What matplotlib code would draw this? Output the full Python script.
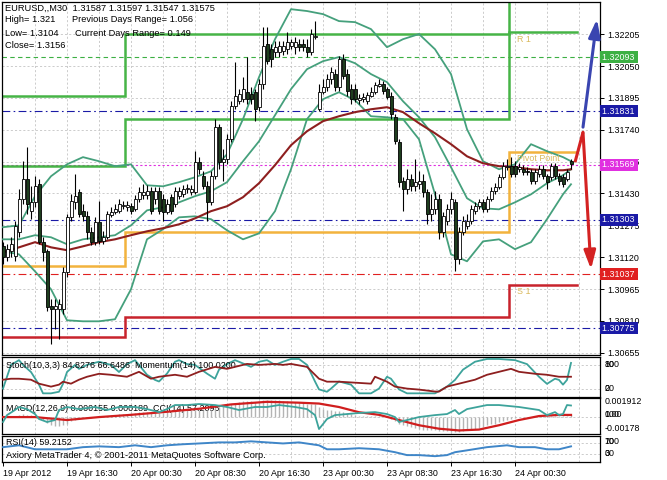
import matplotlib
matplotlib.use("Agg")
import matplotlib.pyplot as plt
import matplotlib.transforms as mtransforms
import numpy as np

plt.rcParams['font.family'] = ['Liberation Sans', 'DejaVu Sans']
FS = 6.4

# ---- EURUSD M30 candles (bar index 0 = 19 Apr 08:30) ----
opens = [
    1.31173, 1.31120, 1.31149, 1.31124, 1.31241, 1.31402, 1.31499, 1.31344, 1.31387, 1.31475,
    1.31193, 1.31149, 1.30881, 1.30866, 1.30866, 1.30866, 1.31046, 1.31314, 1.31387, 1.31436,
    1.31344, 1.31319, 1.31241, 1.31193, 1.31290, 1.31197, 1.31217, 1.31324, 1.31339, 1.31344,
    1.31368, 1.31363, 1.31368, 1.31353, 1.31402, 1.31421, 1.31421, 1.31441, 1.31402, 1.31441,
    1.31402, 1.31339, 1.31412, 1.31378, 1.31417, 1.31426, 1.31451, 1.31436, 1.31436, 1.31582,
    1.31514, 1.31465, 1.31387, 1.31514, 1.31753, 1.31582, 1.31597, 1.31694, 1.31855, 1.31879,
    1.31889, 1.31923, 1.31913, 1.31923, 1.31850, 1.31962, 1.32157, 1.32132, 1.32118, 1.32118,
    1.32123, 1.32132, 1.32147, 1.32142, 1.32157, 1.32157, 1.32142, 1.32118, 1.32191, 1.31840,
    1.31923, 1.31947, 1.31986, 1.32011, 1.31947, 1.32084, 1.32011, 1.31938, 1.31938, 1.31884,
    1.31889, 1.31879, 1.31904, 1.31923, 1.31952, 1.31962, 1.31938, 1.31904, 1.31801, 1.31680,
    1.31490, 1.31451, 1.31499, 1.31465, 1.31475, 1.31490, 1.31436, 1.31329, 1.31353, 1.31402,
    1.31241, 1.31295, 1.31353, 1.31387, 1.31110, 1.31241, 1.31270, 1.31295, 1.31344, 1.31368,
    1.31387, 1.31353, 1.31402, 1.31441, 1.31460, 1.31509, 1.31558, 1.31563, 1.31563, 1.31548,
    1.31548, 1.31538, 1.31533, 1.31490, 1.31524, 1.31548, 1.31514, 1.31509, 1.31563, 1.31514,
    1.31509, 1.31499, 1.31587,
]
highs = [
    1.31193, 1.31183, 1.31217, 1.31295, 1.31451, 1.31587, 1.31655, 1.31465, 1.31514, 1.31499,
    1.31217, 1.31159, 1.30915, 1.30915, 1.30915, 1.31071, 1.31329, 1.31426, 1.31524, 1.31451,
    1.31378, 1.31344, 1.31266, 1.31314, 1.31392, 1.31246, 1.31344, 1.31363, 1.31378, 1.31402,
    1.31392, 1.31392, 1.31382, 1.31421, 1.31460, 1.31475, 1.31470, 1.31460, 1.31460, 1.31460,
    1.31426, 1.31402, 1.31426, 1.31460, 1.31460, 1.31470, 1.31475, 1.31470, 1.31636, 1.31607,
    1.31538, 1.31490, 1.31538, 1.31792, 1.31767, 1.31646, 1.31719, 1.31879, 1.32069, 1.31938,
    1.31996, 1.32094, 1.31947, 1.31938, 1.31986, 1.32240, 1.32240, 1.32157, 1.32171, 1.32171,
    1.32171, 1.32215, 1.32181, 1.32191, 1.32181, 1.32181, 1.32181, 1.32230, 1.32269, 1.31962,
    1.31986, 1.32011, 1.32045, 1.32035, 1.32098, 1.32108, 1.32035, 1.31962, 1.31962, 1.31913,
    1.31918, 1.31923, 1.31947, 1.31972, 1.31986, 1.31977, 1.31947, 1.31923, 1.31816, 1.31694,
    1.31509, 1.31548, 1.31524, 1.31597, 1.31538, 1.31524, 1.31451, 1.31426, 1.31441, 1.31426,
    1.31339, 1.31378, 1.31436, 1.31402, 1.31266, 1.31319, 1.31329, 1.31373, 1.31387, 1.31402,
    1.31402, 1.31417, 1.31460, 1.31480, 1.31524, 1.31582, 1.31597, 1.31607, 1.31587, 1.31577,
    1.31568, 1.31558, 1.31548, 1.31548, 1.31568, 1.31568, 1.31524, 1.31577, 1.31577, 1.31529,
    1.31524, 1.31548, 1.31597,
]
lows = [
    1.31085, 1.31100, 1.31120, 1.31100, 1.31217, 1.31378, 1.31329, 1.31305, 1.31363, 1.31183,
    1.31100, 1.30857, 1.30696, 1.30769, 1.30720, 1.30842, 1.31022, 1.31295, 1.31353, 1.31314,
    1.31295, 1.31207, 1.31178, 1.31178, 1.31183, 1.31183, 1.31207, 1.31314, 1.31329, 1.31334,
    1.31353, 1.31344, 1.31329, 1.31344, 1.31387, 1.31402, 1.31402, 1.31329, 1.31378, 1.31329,
    1.31295, 1.31329, 1.31329, 1.31363, 1.31402, 1.31412, 1.31431, 1.31421, 1.31426, 1.31524,
    1.31451, 1.31295, 1.31373, 1.31499, 1.31548, 1.31490, 1.31572, 1.31680, 1.31840, 1.31865,
    1.31874, 1.31865, 1.31865, 1.31782, 1.31831, 1.31938, 1.32059, 1.32045, 1.32094, 1.32094,
    1.32103, 1.32108, 1.32132, 1.32108, 1.32123, 1.32123, 1.32094, 1.32103, 1.32181, 1.31831,
    1.31913, 1.31928, 1.31962, 1.31928, 1.31928, 1.31986, 1.31904, 1.31865, 1.31874, 1.31865,
    1.31874, 1.31865, 1.31899, 1.31913, 1.31947, 1.31913, 1.31889, 1.31792, 1.31670, 1.31460,
    1.31344, 1.31426, 1.31441, 1.31441, 1.31451, 1.31412, 1.31280, 1.31295, 1.31329, 1.31207,
    1.31217, 1.31275, 1.31329, 1.31051, 1.31085, 1.31227, 1.31256, 1.31280, 1.31329, 1.31353,
    1.31339, 1.31339, 1.31392, 1.31426, 1.31451, 1.31499, 1.31543, 1.31509, 1.31509, 1.31533,
    1.31519, 1.31519, 1.31475, 1.31475, 1.31509, 1.31499, 1.31451, 1.31495, 1.31499, 1.31470,
    1.31460, 1.31490, 1.31547,
]
closes = [
    1.31120, 1.31159, 1.31183, 1.31270, 1.31402, 1.31499, 1.31378, 1.31387, 1.31465, 1.31193,
    1.31144, 1.30876, 1.30866, 1.30881, 1.30891, 1.31046, 1.31314, 1.31392, 1.31417, 1.31329,
    1.31319, 1.31241, 1.31193, 1.31290, 1.31197, 1.31217, 1.31329, 1.31339, 1.31353, 1.31378,
    1.31373, 1.31373, 1.31344, 1.31402, 1.31436, 1.31436, 1.31441, 1.31344, 1.31441, 1.31344,
    1.31339, 1.31378, 1.31344, 1.31441, 1.31441, 1.31451, 1.31456, 1.31451, 1.31582, 1.31548,
    1.31465, 1.31387, 1.31514, 1.31753, 1.31582, 1.31597, 1.31694, 1.31855, 1.31904, 1.31913,
    1.31938, 1.31889, 1.31889, 1.31840, 1.31962, 1.32147, 1.32074, 1.32084, 1.32142, 1.32147,
    1.32147, 1.32167, 1.32167, 1.32167, 1.32142, 1.32142, 1.32118, 1.32206, 1.32196, 1.31923,
    1.31947, 1.31986, 1.32020, 1.31947, 1.32084, 1.32001, 1.31928, 1.31889, 1.31889, 1.31894,
    1.31899, 1.31908, 1.31923, 1.31957, 1.31962, 1.31928, 1.31899, 1.31816, 1.31684, 1.31485,
    1.31451, 1.31499, 1.31465, 1.31485, 1.31490, 1.31436, 1.31329, 1.31353, 1.31402, 1.31241,
    1.31319, 1.31353, 1.31402, 1.31110, 1.31241, 1.31295, 1.31295, 1.31353, 1.31368, 1.31387,
    1.31353, 1.31402, 1.31441, 1.31460, 1.31509, 1.31563, 1.31563, 1.31524, 1.31524, 1.31558,
    1.31533, 1.31533, 1.31490, 1.31533, 1.31548, 1.31514, 1.31485, 1.31563, 1.31514, 1.31490,
    1.31475, 1.31533, 1.31575,
]

line_bars = list(range(0, 141, 4)) + [142]
ma_vals = [
    1.31144, 1.31168, 1.31193, 1.31168, 1.31154, 1.31173, 1.31193, 1.31207, 1.31227, 1.31246,
    1.31261, 1.31280, 1.31309, 1.31344, 1.31368, 1.31412, 1.31480, 1.31568, 1.31665, 1.31733,
    1.31782, 1.31806, 1.31826, 1.31840, 1.31850, 1.31826, 1.31772, 1.31723, 1.31670, 1.31611,
    1.31577, 1.31563, 1.31558, 1.31548, 1.31543, 1.31543, 1.31548,
]
bb_upper = [
    1.31266, 1.31275, 1.31417, 1.31514, 1.31572, 1.31607, 1.31587, 1.31563, 1.31572, 1.31470,
    1.31465, 1.31485, 1.31509, 1.31538, 1.31621, 1.31792, 1.31996, 1.32181, 1.32327, 1.32318,
    1.32303, 1.32269, 1.32264, 1.32230, 1.32142, 1.32181, 1.32206, 1.32132, 1.32011, 1.31743,
    1.31587, 1.31548, 1.31572, 1.31670, 1.31636, 1.31607, 1.31587,
]
bb_mid = [
    1.31207, 1.31207, 1.31227, 1.31217, 1.31183, 1.31207, 1.31217, 1.31227, 1.31275, 1.31348,
    1.31363, 1.31387, 1.31417, 1.31441, 1.31485, 1.31587, 1.31684, 1.31811, 1.31938, 1.32035,
    1.32074, 1.32094, 1.32064, 1.32011, 1.31972, 1.31879, 1.31801, 1.31704, 1.31558, 1.31407,
    1.31358, 1.31353, 1.31387, 1.31426, 1.31480, 1.31519, 1.31548,
]
bb_lower = [
    1.31149, 1.31134, 1.31051, 1.30964, 1.30813, 1.30808, 1.30808, 1.30818, 1.30964, 1.31207,
    1.31256, 1.31314, 1.31319, 1.31305, 1.31251, 1.31207, 1.31236, 1.31344, 1.31548, 1.31792,
    1.31889, 1.31923, 1.31884, 1.31806, 1.31801, 1.31792, 1.31694, 1.31426, 1.31134, 1.31100,
    1.31197, 1.31207, 1.31159, 1.31193, 1.31305, 1.31426, 1.31475,
]

# daily pivot levels (19, 20-23, 24 Apr)
day_edges = [-0.25, 30.5, 126.5, 143.5]
r2_levels = [1.31904, 1.32208, 1.32500]
r1_levels = [1.31563, 1.31792, 1.32215]
pp_levels = [1.31076, 1.31241, 1.31631]
s1_levels = [1.30730, 1.30827, 1.30983]

# marked price levels on the right scale
level_prices = [1.32093, 1.31831, 1.31569, 1.31303, 1.31037, 1.30775]
level_colors = ["#3cb043", "#1a1aa6", "#e030e0", "#1a1aa6", "#e02020", "#1a1aa6"]
price_ticks = [1.32205, 1.32050, 1.31895, 1.31740, 1.31585, 1.31430,
               1.31275, 1.31120, 1.30965, 1.30810, 1.30655]

# ---- sub-window indicators ----
stoch_bars = [0, 2, 4, 5, 7, 9, 10, 12, 14, 15, 16, 18, 19, 21, 24, 27, 29, 31, 33, 34,
              36, 38, 39, 41, 43, 44, 46, 48, 51, 53, 54, 56, 58, 59, 62, 64, 66, 68, 70, 72,
              74, 76, 78, 79, 81, 82, 84, 87, 89, 92, 94, 96, 97, 99, 101, 104, 108, 111, 113, 115,
              118, 121, 124, 128, 131, 134, 136, 138, 139, 140, 141, 142]
stoch_vals = [20, 80, 92, 80, 62, 30, 8, 8, 12, 32, 62, 80, 70, 80, 88, 80, 62, 82, 92, 80,
              55, 42, 38, 58, 88, 92, 82, 80, 58, 45, 68, 82, 92, 88, 75, 88, 92, 80, 88, 95,
              95, 80, 38, 18, 12, 20, 38, 30, 8, 8, 20, 50, 45, 18, 8, 8, 8, 25, 42, 68,
              88, 95, 95, 92, 82, 50, 32, 45, 42, 30, 42, 85]
mom_bars = [0, 2, 4, 7, 9, 10, 12, 14, 15, 17, 19, 21, 24, 27, 31, 34, 37, 39, 43, 46,
            49, 53, 56, 58, 61, 64, 68, 70, 72, 76, 79, 81, 84, 88, 92, 93, 96, 98, 101, 104,
            108, 109, 111, 114, 118, 121, 124, 127, 129, 133, 136, 139, 142]
mom_vals = [99.96, 99.98, 99.98, 99.96, 99.88, 99.86, 99.82, 99.86, 99.92, 99.88,
            99.96, 100.02, 100.08, 100.06, 100.02, 100.12, 99.98, 100.02, 100.06, 100.02,
            100.12, 100.22, 100.18, 100.22, 100.28, 100.26, 100.28, 100.26, 100.28, 100.22,
            99.98, 99.92, 99.92, 99.90, 99.88, 100.02, 99.92, 99.82, 99.78, 99.76,
            99.72, 99.72, 99.82, 99.88, 99.96, 100.06, 100.12, 100.18, 100.12, 100.08,
            100.06, 100.02, 100.02]

macd_main = [
    0.0000, -0.0001, -0.0001, 0.0001, 0.0002, 0.0003, 0.0002, 0.0002,
    0.0000, -0.0003, -0.0004, -0.0007, -0.0010, -0.0011, -0.0011, -0.0010,
    -0.0008, -0.0005, -0.0004, -0.0003, -0.0002, -0.0002, -0.0002, -0.0001,
    -0.0001, 0.0000, 0.0001, 0.0002, 0.0002, 0.0003, 0.0003, 0.0003,
    0.0004, 0.0004, 0.0005, 0.0005, 0.0005, 0.0004, 0.0004, 0.0004,
    0.0004, 0.0005, 0.0005, 0.0006, 0.0006, 0.0006, 0.0007, 0.0007,
    0.0008, 0.0008, 0.0008, 0.0007, 0.0008, 0.0011, 0.0011, 0.0012,
    0.0013, 0.0015, 0.0016, 0.0017, 0.0018, 0.0018, 0.0018, 0.0017,
    0.0018, 0.0019, 0.0019, 0.0019, 0.0019, 0.0019, 0.0018, 0.0018,
    0.0018, 0.0017, 0.0017, 0.0016, 0.0015, 0.0015, 0.0015, 0.0011,
    0.0009, 0.0008, 0.0007, 0.0006, 0.0006, 0.0005, 0.0004, 0.0003,
    0.0002, 0.0001, 0.0001, 0.0001, 0.0001, 0.0001, 0.0001, 0.0000,
    -0.0001, -0.0003, -0.0005, -0.0008, -0.0010, -0.0011, -0.0012, -0.0013,
    -0.0014, -0.0015, -0.0016, -0.0016, -0.0016, -0.0017, -0.0017, -0.0017,
    -0.0018, -0.0018, -0.0018, -0.0017, -0.0016, -0.0015, -0.0014, -0.0013,
    -0.0012, -0.0010, -0.0009, -0.0008, -0.0006, -0.0005, -0.0004, -0.0003,
    -0.0002, -0.0001, -0.0001, 0.0000, 0.0000, 0.0001, 0.0001, 0.0001,
    0.0001, 0.0001, 0.0001, 0.0001, 0.0001, 0.0001, 0.000155,
]
sig_bars = [0, 8, 16, 24, 32, 41, 49, 57, 66, 74, 79, 84, 89, 94, 99, 104, 109, 114,
            119, 124, 129, 134, 139, 142]
sig_vals = [-0.00006, -0.00006, -0.0004, -0.00006, 0.0002, 0.00055, 0.0009, 0.0014,
            0.0017, 0.0016, 0.0015, 0.0011, 0.0005, 0.0002, -0.0004, -0.001, -0.0014,
            -0.0016, -0.0015, -0.001, -0.0004, 0.00006, 0.00019, 0.000189]
cci_bars = [0, 1, 3, 4, 6, 8, 9, 11, 13, 14, 16, 19, 23, 26, 29, 33, 36, 39, 41, 43,
            46, 49, 53, 56, 59, 63, 66, 69, 73, 76, 78, 79, 80, 81, 83, 86, 89, 93, 96, 98,
            99, 101, 104, 108, 111, 113, 114, 116, 121, 124, 129, 134, 136, 138, 139, 140, 141, 142]
cci_vals = [-53, -7, 27, 47, 33, 0, -33, -53, -40, 27, 47, 33, 47, 27, 47, 47, 33, 13, 33, 60,
            60, 67, 60, 47, 27, 47, 47, 60, 47, 33, -7, -100, -67, -33, -7, 0, 7, 13, 0, -20,
            -53, -40, -20, -7, 0, 27, 0, 33, 60, 60, 47, 27, -7, 13, -7, 0, 60, 57]
rsi_bars = [0, 4, 8, 12, 16, 20, 24, 29, 33, 37, 41, 45, 49, 54, 58, 62, 66, 70, 74, 79,
            81, 84, 89, 94, 98, 101, 104, 108, 111, 113, 116, 121, 126, 129, 133, 136, 139, 142]
rsi_vals = [56, 63, 48, 48, 48, 56, 59, 56, 63, 56, 63, 67, 70, 74, 74, 78, 74, 70, 74, 63,
            48, 48, 52, 48, 37, 26, 26, 22, 26, 37, 44, 56, 63, 56, 56, 48, 48, 59]

time_ticks = list(range(0, 129, 16))
time_labels = ["19 Apr 2012", "19 Apr 16:30", "20 Apr 00:30", "20 Apr 08:30",
               "20 Apr 16:30", "23 Apr 00:30", "23 Apr 08:30", "23 Apr 16:30",
               "24 Apr 00:30"]

# ---- layout (pixel based) ----
W, H = 667, 480
fig = plt.figure(figsize=(W / 100, H / 100), dpi=100)
fig.patch.set_facecolor("white")


def px_axes(x0, y0, x1, y1):
    return fig.add_axes([x0 / W, 1 - y1 / H, (x1 - x0) / W, (y1 - y0) / H])


XLIM = (-0.25, 149.25)
GRID = dict(color="#c4c4c4", lw=0.6, ls=(0, (2.5, 2.5)), zorder=0)

ax = px_axes(2, 2, 600, 355)
ax_st = px_axes(2, 357, 600, 396.5)
ax_md = px_axes(2, 398, 600, 434)
ax_rs = px_axes(2, 435.5, 600, 462)

for a in (ax, ax_st, ax_md, ax_rs):
    a.set_xlim(*XLIM)
    for s in a.spines.values():
        s.set_color("black")
        s.set_linewidth(0.9)
    for gx in range(8, 149, 8):
        a.axvline(gx, **GRID)
    a.tick_params(axis="x", bottom=False, labelbottom=False)
    a.tick_params(axis="y", left=False, labelleft=False, right=True, labelright=True,
                  direction="out", length=3, width=0.7, pad=2, labelsize=FS)

# ---- main chart ----
ax.set_ylim(1.30644, 1.32362)
ax.set_yticks(price_ticks)
ax.set_yticklabels([f"{p:.5f}" for p in price_ticks])
for p in price_ticks:
    ax.axhline(p, **GRID)

idx = np.arange(len(closes))
o = np.array(opens)
c = np.array(closes)


def steps(levels):
    xs, ys = [], []
    for k, lv in enumerate(levels):
        xs += [day_edges[k], day_edges[k + 1]]
        ys += [lv, lv]
    return xs, ys


for lv, col in [(r2_levels, "#46b446"), (r1_levels, "#46b446"),
                (pp_levels, "#f2b33d"), (s1_levels, "#c8232c")]:
    ax.plot(*steps(lv), color=col, lw=1.8, zorder=2, solid_joinstyle="miter")

# horizontal levels
styles = [(0, (4, 3)), (0, (7, 3, 1.5, 3)), (0, (2, 2)), (0, (7, 3, 1.5, 3)),
          (0, (7, 3, 1.5, 3)), (0, (7, 3, 1.5, 3))]
for p, col, ls in zip(level_prices, level_colors, styles):
    ax.axhline(p, color=col, lw=0.8, ls=ls, zorder=1.5)

# bands and moving average
band_col = "#45a07c"
ax.plot(line_bars, bb_upper, color=band_col, lw=1.3, zorder=3)
ax.plot(line_bars, bb_mid, color=band_col, lw=1.3, zorder=3)
ax.plot(line_bars, bb_lower, color=band_col, lw=1.3, zorder=3)
ax.plot(line_bars, ma_vals, color="#8e1f1f", lw=1.5, zorder=3)

# candles
ax.vlines(idx, lows, highs, color="black", lw=0.8, zorder=4)
body_h = np.maximum(np.abs(c - o), 0.00003)
body_col = ["white" if cc >= oo else "#1e3d1e" for oo, cc in zip(o, c)]
ax.bar(idx, body_h, bottom=np.minimum(o, c), width=0.75, color=body_col,
       edgecolor="black", linewidth=0.6, zorder=5)

# projection arrows
ax.annotate("", xy=(148.5, 1.32279), xytext=(145, 1.31753),
            arrowprops=dict(arrowstyle="-|>,head_length=1.1,head_width=0.35",
                            color="#3a45b0", lw=2.2, shrinkA=0, shrinkB=0), zorder=6)
ax.plot([143, 145], [1.31582, 1.31728], color="#d42222", lw=2.2, zorder=6,
        solid_capstyle="butt")
ax.annotate("", xy=(147, 1.31061), xytext=(145, 1.31728),
            arrowprops=dict(arrowstyle="-|>,head_length=1.1,head_width=0.35",
                            color="#d42222", lw=2.2, shrinkA=0, shrinkB=0), zorder=6)

# pivot labels
ax.text(128.5, r1_levels[2] - 0.00012, "R 1", color="#d9b85a", fontsize=FS, va="top")
ax.text(128.5, pp_levels[2] - 0.00008, "Pivot Point", color="#d9b85a", fontsize=FS, va="top")
ax.text(128.5, s1_levels[2] - 0.00010, "S 1", color="#d9b85a", fontsize=FS, va="top")

# boxed level labels on the price scale
btr = mtransforms.blended_transform_factory(ax.transAxes, ax.transData)
for p, col in zip(level_prices, level_colors):
    ax.text(1.003, p, f"{p:.5f} ", transform=btr, color="white", fontsize=FS,
            va="center", ha="left", clip_on=False, zorder=10,
            bbox=dict(facecolor=col, edgecolor="none", pad=1.0))

# header text
hdr = [(5, 8, "EURUSD,,M30  1.31587 1.31597 1.31547 1.31575"),
       (5, 20, "High= 1.321"), (72, 20, "Previous Days Range= 1.056"),
       (5, 33, "Low= 1.3104"), (75, 33, "Current Days Range= 0.149"),
       (5, 45, "Close= 1.3156")]
for x, y, s in hdr:
    fig.text(x / W, 1 - y / H, s, fontsize=FS + 0.3, va="center", ha="left", zorder=20)

# ---- stochastic + momentum ----
ax_st.set_ylim(0, 100)
ax_st.set_yticks([])
for lv in (80, 20):
    ax_st.axhline(lv, **GRID)
ax_st.plot(stoch_bars, stoch_vals, color="#3da39b", lw=1.3, zorder=3)
ax_mo = ax_st.twinx()
ax_mo.set_xlim(*XLIM)
ax_mo.set_ylim(99.62, 100.42)
ax_mo.axis("off")
ax_mo.plot(mom_bars, mom_vals, color="#8e1f1f", lw=1.3, zorder=2)
tst = mtransforms.blended_transform_factory(ax_st.transAxes, ax_st.transData)
for s in ("80", "100"):
    ax_st.text(1.008, 80, s, transform=tst, fontsize=FS, va="center", clip_on=False)
for s in ("20", "0"):
    ax_st.text(1.008, 20, s, transform=tst, fontsize=FS, va="center", clip_on=False)
ax_st.text(0.006, 0.78, "Stoch(10,3,3) 84.8276 66.6486  Momentum(14) 100.0200",
           transform=ax_st.transAxes, fontsize=FS, va="center", zorder=10)

# ---- MACD + CCI ----
ax_md.set_ylim(-0.00201, 0.00214)
ax_md.set_yticks([])
ax_md.axhline(0, **GRID)
ax_md.vlines(idx, 0, macd_main, color="#b4b4b4", lw=1.0, zorder=2)
ax_md.plot(sig_bars, sig_vals, color="#d01e1e", lw=1.6, zorder=3)
ax_cc = ax_md.twinx()
ax_cc.set_xlim(*XLIM)
ax_cc.set_ylim(-133, 107)
ax_cc.axis("off")
ax_cc.plot(cci_bars, cci_vals, color="#3da39b", lw=1.3, zorder=4)
tmd = mtransforms.blended_transform_factory(ax_md.transAxes, ax_md.transData)
ax_md.text(1.008, 0.00175, "0.001912", transform=tmd, fontsize=FS, va="center", clip_on=False)
for s in ("0.00", "100"):
    ax_md.text(1.008, 0.00025, s, transform=tmd, fontsize=FS, va="center", clip_on=False)
ax_md.text(1.008, -0.00135, "-0.00178", transform=tmd, fontsize=FS, va="center", clip_on=False)
ax_md.text(0.006, 0.72, "MACD(12,26,9) 0.000155 0.000189  CCI(14) 57.2095",
           transform=ax_md.transAxes, fontsize=FS, va="center", zorder=1)

# ---- RSI ----
ax_rs.set_ylim(0, 100)
ax_rs.set_yticks([])
for lv in (70, 30):
    ax_rs.axhline(lv, **GRID)
ax_rs.plot(rsi_bars, rsi_vals, color="#3f86c8", lw=1.4, zorder=3)
trs = mtransforms.blended_transform_factory(ax_rs.transAxes, ax_rs.transData)
for s in ("100", "70"):
    ax_rs.text(1.008, 78, s, transform=trs, fontsize=FS, va="center", clip_on=False)
for s in ("30", "0"):
    ax_rs.text(1.008, 33, s, transform=trs, fontsize=FS, va="center", clip_on=False)
ax_rs.text(0.006, 0.72, "RSI(14) 59.2152", transform=ax_rs.transAxes, fontsize=FS, va="center")
ax_rs.text(0.006, 0.25, "Axiory MetaTrader 4, \u00a9 2001-2011 MetaQuotes Software Corp.",
           transform=ax_rs.transAxes, fontsize=FS + 0.3, va="center")

ax_rs.tick_params(axis="x", bottom=True, labelbottom=True, direction="out",
                  length=3, width=0.7, pad=2, labelsize=FS)
ax_rs.set_xticks(time_ticks)
ax_rs.set_xticklabels(time_labels, ha="left")

fig.savefig("out.png", dpi=100, facecolor="white")
